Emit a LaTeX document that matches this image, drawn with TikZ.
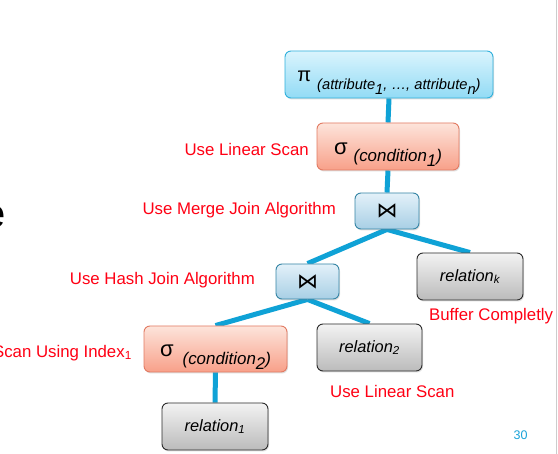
\documentclass[tikz,border=0pt]{standalone}
\usepackage{fontspec}
\setmainfont{Liberation Sans}
\newfontfamily\dejavu{DejaVu Sans}
\usetikzlibrary{backgrounds,shadows}
\definecolor{pitop}{HTML}{DAF4FD}
\definecolor{pibot}{HTML}{92DBF5}
\definecolor{piline}{HTML}{2FB0DC}
\definecolor{sgtop}{HTML}{FDE4DB}
\definecolor{sgbot}{HTML}{F8A089}
\definecolor{sgline}{HTML}{E27A62}
\definecolor{jntop}{HTML}{E3F1F9}
\definecolor{jnbot}{HTML}{A8CFE5}
\definecolor{jnline}{HTML}{3585A5}
\definecolor{rltop}{HTML}{F3F3F3}
\definecolor{rlbot}{HTML}{BBBBBB}
\definecolor{rlline}{HTML}{2B2B2B}
\definecolor{conn}{HTML}{0FA2D6}
\definecolor{lab}{HTML}{FF0014}
\definecolor{pagenum}{HTML}{1AA3D9}
\tikzset{
  opbox/.style={rounded corners=6pt, line width=0.9pt, inner sep=0pt,
    drop shadow={shadow xshift=1pt, shadow yshift=-1.5pt, opacity=0.25}},
  pibox/.style={opbox, draw=piline, top color=pitop, bottom color=pibot},
  sgbox/.style={opbox, draw=sgline, top color=sgtop, bottom color=sgbot},
  jnbox/.style={opbox, draw=jnline, top color=jntop, bottom color=jnbot},
  rlbox/.style={opbox, draw=rlline, top color=rltop, bottom color=rlbot},
  lbl/.style={text=lab, inner sep=0pt, font=\fontsize{16.8}{19}\selectfont},
  link/.style={draw=conn, line width=5pt},
  reltext/.style={font=\fontsize{16.4}{18}\selectfont\itshape},
}
\newcommand{\lowr}[1]{\raisebox{-4.5pt}{#1}}
\newcommand{\relsub}[1]{\textsubscript{\fontsize{11.5}{12}\selectfont #1}}
\begin{document}
\begin{tikzpicture}[x=1pt,y=-1pt]
\useasboundingbox (0,0) rectangle (558,454);
\begin{pgfonlayer}{background}
\fill[white] (0,0) rectangle (558,454);
\end{pgfonlayer}
\draw[gray!40, line width=1pt] (556.5,0) -- (556.5,454);
% partial letter at the left edge
\node[anchor=east, inner sep=0pt, font=\fontsize{40}{44}\selectfont] (e) at (5.5,217) {e};
% nodes
\node[pibox, minimum width=208pt, minimum height=47pt, text height=15pt, text depth=0pt] (pi) at (389,74.5)
  {{\fontsize{20}{20}\selectfont π}\hspace{6pt}\raisebox{-8pt}{\fontsize{14.7}{15}\selectfont\itshape (attribute\lowr{1}, …, attribute\lowr{n})}};
\node[sgbox, minimum width=142pt, minimum height=47pt, text height=17pt, text depth=0pt] (s1) at (388,146.5)
  {{\fontsize{22}{22}\selectfont σ}\hspace{6pt}\raisebox{-7pt}{\fontsize{16.9}{17}\selectfont\itshape (condition\lowr{1})}};
\node[jnbox, minimum width=64pt, minimum height=36pt] (j1) at (387,211)
  {{\dejavu\fontsize{21}{21}\selectfont ⋈}};
\node[jnbox, minimum width=63pt, minimum height=35pt] (j2) at (307.5,281.5)
  {{\dejavu\fontsize{21}{21}\selectfont ⋈}};
\node[rlbox, minimum width=106pt, minimum height=47pt, reltext] (rk) at (470,276.5)
  {relation\relsub{k}};
\node[sgbox, minimum width=143pt, minimum height=46pt, text height=16pt, text depth=0pt] (s2) at (215.5,349)
  {{\fontsize{22}{22}\selectfont σ}\hspace{9pt}\raisebox{-8pt}{\fontsize{16.9}{17}\selectfont\itshape (condition\lowr{2})}};
\node[rlbox, minimum width=105pt, minimum height=47pt, reltext] (r2) at (369.5,347.5)
  {relation\relsub{2}};
\node[rlbox, minimum width=106pt, minimum height=47pt, reltext] (r1) at (215,426.5)
  {relation\relsub{1}};
% connectors
\begin{pgfonlayer}{background}
\draw[link] (pi.south) -- (s1.north);
\draw[link] (s1.south) -- (j1.north);
\draw[link] (j1.south) -- (j2.north);
\draw[link] (j1.south) -- (rk.north);
\draw[link] (j2.south) -- (s2.north);
\draw[link] (j2.south) -- (r2.north);
\draw[link] (s2.south) -- (r1.north);
\end{pgfonlayer}
% labels
\node[lbl, anchor=east] (l1) at (309,149) {Use Linear Scan};
\node[lbl, anchor=east] (l2) at (336,210) {Use Merge Join Algorithm};
\node[lbl, anchor=east] (l3) at (255,280) {Use Hash Join Algorithm};
\node[lbl, anchor=east] (l4) at (132,353) {Scan Using Index\textsubscript{1}};
\node[lbl, anchor=west] (l5) at (429,316) {Buffer Completly};
\node[lbl, anchor=west] (l6) at (330,391) {Use Linear Scan};
\node[inner sep=0pt, text=pagenum, font=\fontsize{12.5}{14}\selectfont] (pg) at (520.5,435) {30};
\end{tikzpicture}
\end{document}
